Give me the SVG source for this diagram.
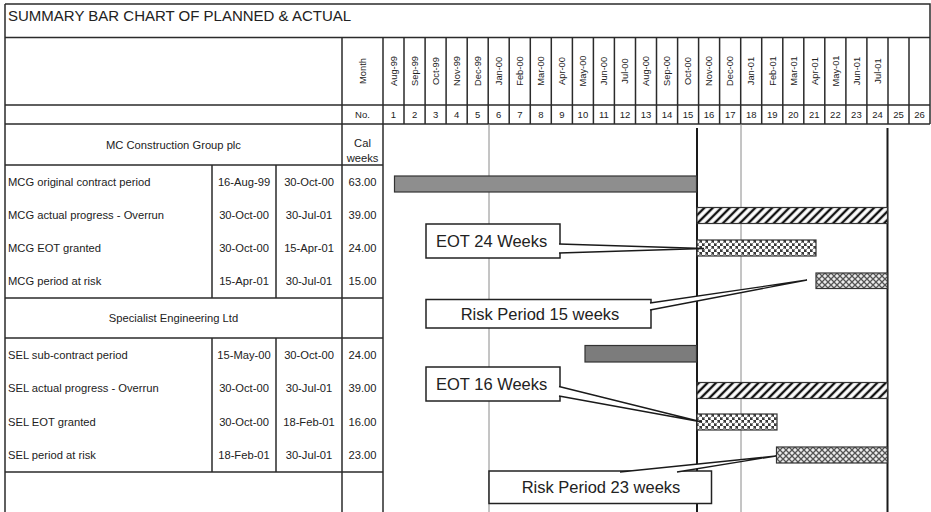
<svg xmlns="http://www.w3.org/2000/svg" width="931" height="512" viewBox="0 0 931 512">
  <style>
    text { font-family: "Liberation Sans", Arial, sans-serif; fill: #222; }
    .title { font-size: 15px; }
    .mon { font-size: 9.3px; }
    .num { font-size: 9.5px; text-anchor: middle; }
    .cell { font-size: 11.2px; }
    .mid { text-anchor: middle; }
    .call { font-size: 16.5px; }
    .rule { stroke: #2b2b2b; stroke-width: 1.5; fill: none; }
    .grey { stroke: #8a8a8a; stroke-width: 1; fill: none; }
    .dead { stroke: #1a1a1a; stroke-width: 2; fill: none; }
    .bar { stroke: #333; stroke-width: 1.2; }
    .box { fill: #fff; stroke: #222; stroke-width: 1.5; }
    .ptr { fill: #fff; stroke: #1a1a1a; stroke-width: 1.3; stroke-linejoin: miter; }
  </style>
  <defs>
    <pattern id="hatch" width="6" height="6" patternUnits="userSpaceOnUse" patternTransform="rotate(45)">
      <rect width="6" height="6" fill="#fff"/>
      <line x1="3" y1="0" x2="3" y2="6" stroke="#111" stroke-width="2.4"/>
    </pattern>
    <pattern id="dots" width="6" height="6" patternUnits="userSpaceOnUse">
      <rect width="6" height="6" fill="#3a3a3a"/>
      <circle cx="1.5" cy="1.5" r="2.05" fill="#fff"/>
      <circle cx="4.5" cy="4.5" r="2.05" fill="#fff"/>
    </pattern>
    <pattern id="cross" width="6" height="6" patternUnits="userSpaceOnUse">
      <rect width="6" height="6" fill="#ececec"/>
      <path d="M0,0 L6,6 M6,0 L0,6" stroke="#555" stroke-width="1.3"/>
    </pattern>
  </defs>

  <rect width="931" height="512" fill="#fff"/>

  <!-- frame and table rules -->
  <g id="frame">
    <path class="rule" d="M5,4 H930 V124 M5,4 V512 M5,37.5 H930 M5,105 H930 M5,124 H930"/>
    <path class="rule" d="M342,37.5 V512 M383,37.5 V512"/>
    <path class="rule" d="M5,165 H383 M5,298 H383 M5,338 H383 M5,472 H383"/>
    <path class="rule" d="M212,165 V298 M276,165 V298 M212,338 V472 M276,338 V472"/>
    <!-- month column dividers -->
    <path class="rule" d="M404,37.5 V124 M425.1,37.5 V124 M446.1,37.5 V124 M467.2,37.5 V124 M488.2,37.5 V124 M509.2,37.5 V124 M530.3,37.5 V124 M551.3,37.5 V124 M572.4,37.5 V124 M593.4,37.5 V124 M614.4,37.5 V124 M635.5,37.5 V124 M656.5,37.5 V124 M677.6,37.5 V124 M698.6,37.5 V124 M719.6,37.5 V124 M740.7,37.5 V124 M761.7,37.5 V124 M782.8,37.5 V124 M803.8,37.5 V124 M824.8,37.5 V124 M845.9,37.5 V124 M866.9,37.5 V124 M888,37.5 V124 M909,37.5 V124"/>
  </g>

  <g id="title">
    <text class="title" x="8" y="21">SUMMARY BAR CHART OF PLANNED &amp; ACTUAL</text>
  </g>

  <!-- timescale header -->
  <g id="header-months" class="mon">
    <text class="mid" transform="translate(362.5,71) rotate(-90)" dy="0.35em">Month</text>
    <text class="mid" transform="translate(393.5,71) rotate(-90)" dy="0.35em">Aug-99</text>
    <text class="mid" transform="translate(414.6,71) rotate(-90)" dy="0.35em">Sep-99</text>
    <text class="mid" transform="translate(435.6,71) rotate(-90)" dy="0.35em">Oct-99</text>
    <text class="mid" transform="translate(456.7,71) rotate(-90)" dy="0.35em">Nov-99</text>
    <text class="mid" transform="translate(477.7,71) rotate(-90)" dy="0.35em">Dec-99</text>
    <text class="mid" transform="translate(498.7,71) rotate(-90)" dy="0.35em">Jan-00</text>
    <text class="mid" transform="translate(519.8,71) rotate(-90)" dy="0.35em">Feb-00</text>
    <text class="mid" transform="translate(540.8,71) rotate(-90)" dy="0.35em">Mar-00</text>
    <text class="mid" transform="translate(561.9,71) rotate(-90)" dy="0.35em">Apr-00</text>
    <text class="mid" transform="translate(582.9,71) rotate(-90)" dy="0.35em">May-00</text>
    <text class="mid" transform="translate(603.9,71) rotate(-90)" dy="0.35em">Jun-00</text>
    <text class="mid" transform="translate(625,71) rotate(-90)" dy="0.35em">Jul-00</text>
    <text class="mid" transform="translate(646,71) rotate(-90)" dy="0.35em">Aug-00</text>
    <text class="mid" transform="translate(667.1,71) rotate(-90)" dy="0.35em">Sep-00</text>
    <text class="mid" transform="translate(688.1,71) rotate(-90)" dy="0.35em">Oct-00</text>
    <text class="mid" transform="translate(709.1,71) rotate(-90)" dy="0.35em">Nov-00</text>
    <text class="mid" transform="translate(730.2,71) rotate(-90)" dy="0.35em">Dec-00</text>
    <text class="mid" transform="translate(751.2,71) rotate(-90)" dy="0.35em">Jan-01</text>
    <text class="mid" transform="translate(772.3,71) rotate(-90)" dy="0.35em">Feb-01</text>
    <text class="mid" transform="translate(793.3,71) rotate(-90)" dy="0.35em">Mar-01</text>
    <text class="mid" transform="translate(814.3,71) rotate(-90)" dy="0.35em">Apr-01</text>
    <text class="mid" transform="translate(835.4,71) rotate(-90)" dy="0.35em">May-01</text>
    <text class="mid" transform="translate(856.4,71) rotate(-90)" dy="0.35em">Jun-01</text>
    <text class="mid" transform="translate(877.5,71) rotate(-90)" dy="0.35em">Jul-01</text>
  </g>

  <g id="header-numbers" class="num">
    <text x="362.5" y="118">No.</text>
    <text x="393.5" y="118">1</text>
    <text x="414.6" y="118">2</text>
    <text x="435.6" y="118">3</text>
    <text x="456.7" y="118">4</text>
    <text x="477.7" y="118">5</text>
    <text x="498.7" y="118">6</text>
    <text x="519.8" y="118">7</text>
    <text x="540.8" y="118">8</text>
    <text x="561.9" y="118">9</text>
    <text x="582.9" y="118">10</text>
    <text x="603.9" y="118">11</text>
    <text x="625" y="118">12</text>
    <text x="646" y="118">13</text>
    <text x="667.1" y="118">14</text>
    <text x="688.1" y="118">15</text>
    <text x="709.1" y="118">16</text>
    <text x="730.2" y="118">17</text>
    <text x="751.2" y="118">18</text>
    <text x="772.3" y="118">19</text>
    <text x="793.3" y="118">20</text>
    <text x="814.3" y="118">21</text>
    <text x="835.4" y="118">22</text>
    <text x="856.4" y="118">23</text>
    <text x="877.5" y="118">24</text>
    <text x="898.5" y="118">25</text>
    <text x="919.5" y="118">26</text>
  </g>

  <!-- time grid -->
  <g id="grid">
    <path class="grey" d="M489,124 V512 M741,124 V512"/>
    <path class="dead" d="M697,128 V512 M887.5,128 V512"/>
  </g>

  <!-- MC Construction Group section -->
  <g id="section-mcg" class="cell">
    <text class="mid" x="173.5" y="149">MC Construction Group plc</text>
    <text class="mid" x="362.5" y="147">Cal</text>
    <text class="mid" x="362.5" y="161.5">weeks</text>
  </g>
  <g id="row-mcg-original" class="cell">
    <text x="8" y="185.6">MCG original contract period</text>
    <text class="mid" x="244" y="185.6">16-Aug-99</text>
    <text class="mid" x="309" y="185.6">30-Oct-00</text>
    <text class="mid" x="362.5" y="185.6">63.00</text>
  </g>
  <g id="row-mcg-overrun" class="cell">
    <text x="8" y="219">MCG actual progress - Overrun</text>
    <text class="mid" x="244" y="219">30-Oct-00</text>
    <text class="mid" x="309" y="219">30-Jul-01</text>
    <text class="mid" x="362.5" y="219">39.00</text>
  </g>
  <g id="row-mcg-eot" class="cell">
    <text x="8" y="252">MCG EOT granted</text>
    <text class="mid" x="244" y="252">30-Oct-00</text>
    <text class="mid" x="309" y="252">15-Apr-01</text>
    <text class="mid" x="362.5" y="252">24.00</text>
  </g>
  <g id="row-mcg-risk" class="cell">
    <text x="8" y="285.4">MCG period at risk</text>
    <text class="mid" x="244" y="285.4">15-Apr-01</text>
    <text class="mid" x="309" y="285.4">30-Jul-01</text>
    <text class="mid" x="362.5" y="285.4">15.00</text>
  </g>

  <!-- Specialist Engineering section -->
  <g id="section-sel" class="cell">
    <text class="mid" x="173.5" y="322">Specialist Engineering Ltd</text>
  </g>
  <g id="row-sel-sub" class="cell">
    <text x="8" y="358.8">SEL sub-contract period</text>
    <text class="mid" x="244" y="358.8">15-May-00</text>
    <text class="mid" x="309" y="358.8">30-Oct-00</text>
    <text class="mid" x="362.5" y="358.8">24.00</text>
  </g>
  <g id="row-sel-overrun" class="cell">
    <text x="8" y="392.2">SEL actual progress - Overrun</text>
    <text class="mid" x="244" y="392.2">30-Oct-00</text>
    <text class="mid" x="309" y="392.2">30-Jul-01</text>
    <text class="mid" x="362.5" y="392.2">39.00</text>
  </g>
  <g id="row-sel-eot" class="cell">
    <text x="8" y="425.8">SEL EOT granted</text>
    <text class="mid" x="244" y="425.8">30-Oct-00</text>
    <text class="mid" x="309" y="425.8">18-Feb-01</text>
    <text class="mid" x="362.5" y="425.8">16.00</text>
  </g>
  <g id="row-sel-risk" class="cell">
    <text x="8" y="459.2">SEL period at risk</text>
    <text class="mid" x="244" y="459.2">18-Feb-01</text>
    <text class="mid" x="309" y="459.2">30-Jul-01</text>
    <text class="mid" x="362.5" y="459.2">23.00</text>
  </g>

  <!-- bars -->
  <g id="bar-mcg-original"><rect class="bar" x="394.5" y="176" width="302" height="16" fill="#8e8e8e"/></g>
  <g id="bar-mcg-overrun"><rect class="bar" x="697" y="207.5" width="190.5" height="16" fill="url(#hatch)"/></g>
  <g id="bar-mcg-eot"><rect class="bar" x="697" y="240" width="119" height="16" fill="url(#dots)"/></g>
  <g id="bar-mcg-risk"><rect class="bar" x="816" y="273" width="71.5" height="15.5" fill="url(#cross)"/></g>
  <g id="bar-sel-sub"><rect class="bar" x="585" y="345.5" width="111.5" height="16.5" fill="#7c7c7c"/></g>
  <g id="bar-sel-overrun"><rect class="bar" x="697" y="382.5" width="190.5" height="16" fill="url(#hatch)"/></g>
  <g id="bar-sel-eot"><rect class="bar" x="697" y="414" width="80" height="16" fill="url(#dots)"/></g>
  <g id="bar-sel-risk"><rect class="bar" x="776.5" y="447" width="111" height="16" fill="url(#cross)"/></g>

  <!-- callout boxes -->
  <g id="callout-eot24">
    <rect class="box" x="426" y="224" width="134" height="34"/>
    <text class="call" x="436" y="247">EOT 24 Weeks</text>
  </g>
  <g id="callout-risk15">
    <rect class="box" x="426" y="299.5" width="225" height="28.5"/>
    <text class="call mid" x="540" y="319.5">Risk Period 15 weeks</text>
  </g>
  <g id="callout-eot16">
    <rect class="box" x="426" y="367" width="134" height="34"/>
    <text class="call" x="436" y="390">EOT 16 Weeks</text>
  </g>
  <g id="callout-risk23">
    <rect class="box" x="489" y="471" width="222.5" height="32.5"/>
    <text class="call mid" x="601" y="493">Risk Period 23 weeks</text>
  </g>

  <!-- callout pointers -->
  <g id="connectors">
    <path class="ptr" d="M559,244 L704,248.5 L559,253"/>
    <path class="ptr" d="M650,303 L807,280 L650,310"/>
    <path class="ptr" d="M559,386.5 L702,422 L559,396"/>
    <path class="ptr" d="M620,472 L776,456 L677,472"/>
  </g>
</svg>
